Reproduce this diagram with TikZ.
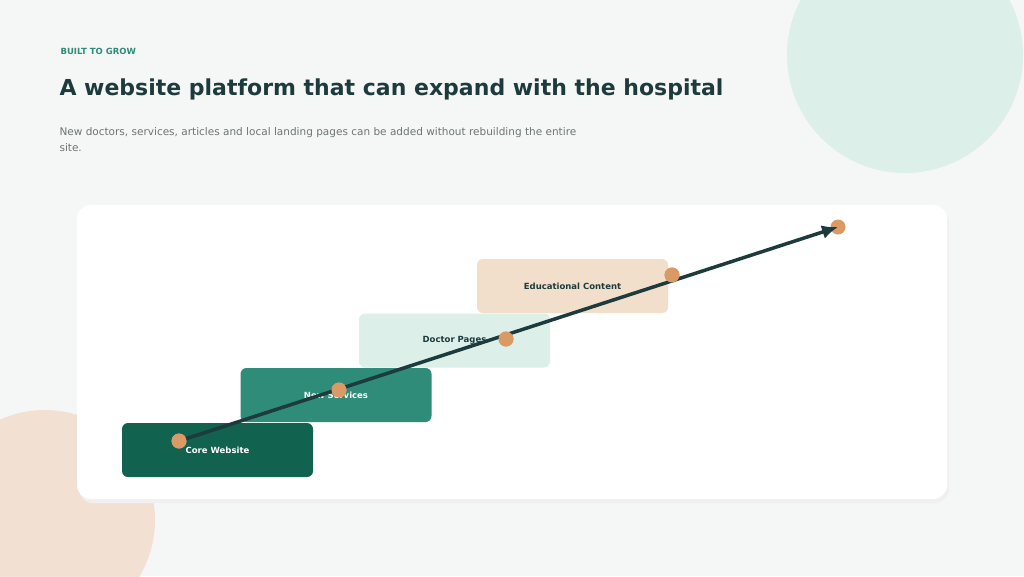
\documentclass[tikz,border=0pt]{standalone}
\usepackage{fontspec}
\setmainfont{DejaVu Sans}
\usetikzlibrary{arrows.meta}
\definecolor{bgpage}{HTML}{F5F7F6}
\definecolor{mintc}{HTML}{DCEFE8}
\definecolor{peachc}{HTML}{F2E1D2}
\definecolor{inkc}{HTML}{1D3A3C}
\definecolor{greentag}{HTML}{2E8C79}
\definecolor{stepa}{HTML}{11624F}
\definecolor{stepb}{HTML}{2E8C79}
\definecolor{stepc}{HTML}{DDEFE9}
\definecolor{stepd}{HTML}{F2DFCB}
\definecolor{dotc}{HTML}{D99A66}
\definecolor{greyc}{HTML}{6B7575}
\begin{document}
\begin{tikzpicture}[x=1pt,y=-1pt,
  stepbox/.style={rounded corners=6pt, minimum width=191pt, minimum height=54pt, inner sep=0pt, font=\bfseries\fontsize{8.5}{10}\selectfont},
  dot/.style={circle, fill=dotc, minimum size=15pt, inner sep=0pt}]
\fill[bgpage] (0,0) rectangle (1024,576);
\useasboundingbox (0,0) rectangle (1024,576);
\fill[mintc] (905,55) circle (118);
\fill[peachc] (45,520) circle (110);

% card
\fill[black!6, rounded corners=14pt] (79,209) rectangle (949,503);
\fill[white, rounded corners=14pt] (77,205) rectangle (947,499);

% heading
\node[anchor=west, text=greentag, font=\bfseries\fontsize{8.5}{10}\selectfont] (tag) at (57,51) {BUILT TO GROW};
\node[anchor=west, text=inkc, font=\bfseries\fontsize{22}{26}\selectfont] (title) at (56,89) {A website platform that can expand with the hospital};
\node[anchor=north west, text=greyc, align=left, font=\fontsize{10.5}{16}\selectfont] (sub) at (56,124)
  {New doctors, services, articles and local landing pages can be added without rebuilding the entire\\site.};

% steps
\node[stepbox, fill=stepa, text=white] (core) at (217.5,450) {Core Website};
\node[stepbox, fill=stepb, text=white] (serv) at (336,395) {New Services};
\node[stepbox, fill=stepc, text=inkc] (doc) at (454.5,340.5) {Doctor Pages};
\node[stepbox, fill=stepd, text=inkc] (edu) at (572.5,286) {Educational Content};

% growth line
\node[dot] (p5) at (838,227) {};
\node[dot] (p1) at (179,441) {};
\node[dot] (p2) at (339,390) {};
\node[dot] (p3) at (506,339) {};
\node[dot] (p4) at (672,275) {};
\draw[inkc, line width=3.5pt, -{Latex[length=16pt,width=14pt]}] (p1.center) -- (p5.center);
\foreach \p in {p1,p2,p3,p4}{\fill[dotc] (\p) circle (7.5);}
\end{tikzpicture}
\end{document}
